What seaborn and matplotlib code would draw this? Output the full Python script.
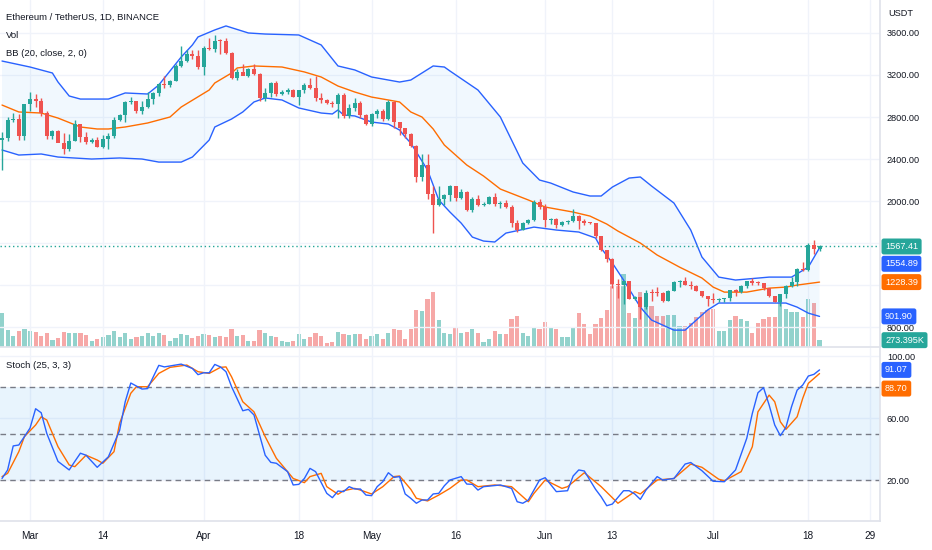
import numpy as np
import pandas as pd
import matplotlib
matplotlib.use("Agg")
import matplotlib.pyplot as plt
import seaborn as sns
from matplotlib import transforms

# ---------------- data ----------------
start_date = "2022-02-24"   # first candle (day 0)
opens = [2580, 2598, 2774, 2781, 2619,
         2920, 2972, 2950, 2835, 2620, 2665, 2555, 2495, 2576, 2730, 2607, 2560, 2577, 2515, 2590, 2620,
         2772, 2815, 2945, 2950, 2860, 2895, 2970, 3030, 3110, 3105, 3145, 3290, 3330, 3400, 3385,
         3280, 3455, 3445, 3522, 3520, 3410, 3170, 3232, 3190, 3260, 3210, 2980, 3030, 3120, 3020,
         3040, 3060, 2990, 3060, 3105, 3075, 2985, 2960, 2935, 2920, 3010, 2810, 2890, 2935, 2815,
         2730, 2825, 2855, 2780, 2940, 2750, 2695, 2635, 2520, 2230, 2340, 2070, 1960, 2015, 2060,
         2145, 2025, 2090, 1915, 2020, 1960, 1975, 2040, 1970, 1980, 1940, 1795, 1725, 1795, 1815, 1995,
         1940, 1820, 1832, 1775, 1805, 1806, 1860, 1812, 1793, 1790, 1665, 1530, 1450, 1210, 1205,
         1235, 1068, 1086, 995, 1127, 1125, 1123, 1050, 1145, 1225, 1243, 1200, 1190, 1140, 1095,
         1070, 1060, 1067, 1073, 1150, 1135, 1187, 1237, 1222, 1217, 1168, 1097, 1039, 1112, 1192,
         1233, 1355, 1340, 1582, 1542]
highs = [2660, 2800, 2840, 2830, 2922,
         3040, 3020, 2980, 2855, 2680, 2675, 2645, 2635, 2770, 2730, 2660, 2600, 2610, 2630, 2650, 2800,
         2830, 2950, 2990, 2955, 2950, 3040, 3040, 3120, 3190, 3150, 3300, 3480, 3440, 3440, 3440,
         3480, 3555, 3580, 3545, 3555, 3420, 3260, 3300, 3270, 3300, 3215, 3080, 3130, 3140, 3060,
         3080, 3070, 3060, 3120, 3170, 3190, 3030, 2970, 2950, 3030, 3030, 2925, 2980, 2955, 2830,
         2835, 2880, 2875, 2965, 2955, 2755, 2700, 2650, 2530, 2450, 2450, 2140, 2140, 2070, 2150,
         2145, 2110, 2100, 2040, 2060, 1995, 2050, 2080, 2000, 2010, 1960, 1815, 1800, 1830, 2010, 2020,
         1970, 1840, 1840, 1810, 1820, 1920, 1870, 1830, 1800, 1795, 1670, 1535, 1455, 1255, 1240,
         1240, 1100, 1090, 1150, 1160, 1180, 1135, 1150, 1235, 1250, 1280, 1235, 1200, 1145, 1100,
         1120, 1080, 1080, 1155, 1160, 1200, 1240, 1270, 1240, 1220, 1170, 1100, 1115, 1200, 1280,
         1360, 1415, 1600, 1625, 1585]
lows = [2300, 2570, 2750, 2580, 2580,
        2860, 2900, 2810, 2590, 2590, 2560, 2450, 2480, 2575, 2560, 2540, 2555, 2510, 2505, 2500, 2600,
        2765, 2750, 2920, 2840, 2830, 2890, 2920, 3000, 3080, 3090, 3140, 3280, 3320, 3350, 3260,
        3200, 3440, 3420, 3400, 3400, 3160, 3150, 3200, 3180, 3200, 2950, 2950, 2990, 3000, 3010,
        3020, 2990, 2910, 3030, 3070, 2950, 2930, 2925, 2900, 2790, 2790, 2790, 2860, 2790, 2720,
        2710, 2790, 2760, 2770, 2700, 2630, 2600, 2510, 2180, 2190, 2020, 1700, 1950, 1960, 2000,
        2000, 2020, 1905, 1900, 1950, 1950, 1970, 1950, 1930, 1930, 1750, 1710, 1720, 1785, 1810, 1920,
        1750, 1780, 1740, 1760, 1780, 1800, 1730, 1770, 1780, 1650, 1520, 1420, 1170, 1075, 1020,
        1066, 1060, 880, 970, 1050, 1100, 1040, 1045, 1140, 1180, 1200, 1160, 1140, 1085, 1000,
        1030, 1040, 1040, 1050, 1100, 1120, 1170, 1200, 1200, 1150, 1085, 1035, 1005, 1075, 1185,
        1190, 1336, 1335, 1500, 1525]
closes = [2598, 2774, 2781, 2619, 2920,
          2972, 2950, 2835, 2620, 2665, 2555, 2495, 2576, 2730, 2607, 2560, 2577, 2515, 2590, 2620, 2772,
          2815, 2945, 2950, 2860, 2895, 2970, 3030, 3110, 3105, 3145, 3290, 3330, 3400, 3385, 3280,
          3455, 3445, 3522, 3520, 3410, 3170, 3232, 3190, 3260, 3210, 2980, 3030, 3120, 3020, 3040,
          3060, 2990, 3060, 3105, 3075, 2985, 2960, 2935, 2920, 3010, 2810, 2890, 2935, 2815, 2730,
          2825, 2855, 2780, 2940, 2750, 2695, 2635, 2520, 2230, 2340, 2070, 1960, 2015, 2060, 2145,
          2025, 2090, 1915, 2020, 1960, 1975, 2040, 1970, 1980, 1940, 1795, 1725, 1795, 1815, 1995, 1940,
          1820, 1832, 1775, 1805, 1806, 1860, 1812, 1793, 1790, 1665, 1530, 1450, 1210, 1205, 1235,
          1068, 1086, 995, 1127, 1125, 1123, 1050, 1145, 1225, 1243, 1200, 1190, 1140, 1095, 1070,
          1060, 1067, 1073, 1150, 1135, 1187, 1237, 1222, 1217, 1168, 1097, 1039, 1112, 1192, 1233,
          1355, 1340, 1582, 1542, 1567.41]
volume_k = [1360, 680, 440, 640, 720,
            640, 600, 440, 560, 280, 360, 600, 560, 560, 560, 480, 240, 320, 400, 480, 640, 400, 560, 320,
            400, 440, 560, 440, 560, 480, 240, 360, 520, 480, 360, 440,
            520, 480, 400, 440, 400, 720, 440, 480, 240, 240, 680, 560, 440, 400, 240, 200, 240, 520, 320,
            400, 560, 440, 160, 200, 600, 520, 480, 520, 520, 320,
            440, 520, 320, 560, 720, 680, 320, 720, 1480, 1440, 1920, 2200, 1080, 560, 520, 800, 560, 600,
            720, 560, 200, 320, 640, 520, 520, 1120, 1240, 560, 440, 800, 720,
            1000, 760, 720, 400, 400, 760, 1360, 920, 520, 920, 1160, 1480, 2600, 2480, 2920, 1360, 1160,
            2200, 1840, 1640, 1240, 1240, 1280, 1280, 840, 840, 960, 1200, 1400, 1480,
            1520, 640, 640, 1080, 1240, 1120, 1040, 560, 960, 1120, 1200, 1200, 1840, 1520, 1400, 1400,
            1200, 1920, 1760, 273.395]

# Bollinger Bands (20, close, 2): day offset, value
bb_up_day = [0, 5, 9, 10, 12, 14, 19, 22, 26, 28, 32, 34, 35, 38, 40, 44, 47, 53, 57, 60,
             63, 66, 71, 73, 75, 77, 79, 80, 85, 89, 91, 93, 96, 98, 102, 105, 107, 109, 112, 114,
             116, 120, 123, 125, 128, 131, 137, 141, 144, 146]
bb_up = [3333, 3276, 3219, 3133, 3000, 2971, 2971, 3029, 3019, 3105, 3371, 3486, 3562, 3629, 3667,
         3600, 3590, 3581, 3486, 3286, 3248, 3181, 3133, 3152, 3219, 3286, 3276, 3238, 3057, 2800,
         2581, 2362, 2200, 2171, 2086, 2048, 2048, 2133, 2219, 2229, 2143, 1981, 1724, 1467, 1276,
         1248, 1276, 1276, 1371, 1554.89]
bb_mid_day = [0, 3, 7, 10, 14, 17, 19, 22, 26, 30, 32, 37, 38, 41, 42, 45, 50, 54, 57, 60,
              63, 66, 69, 71, 73, 75, 77, 79, 83, 86, 89, 94, 97, 102, 105, 108, 110, 114, 117, 121,
              125, 127, 129, 133, 137, 140, 142, 146]
bb_mid = [2914, 2848, 2838, 2790, 2705, 2686, 2686, 2705, 2743, 2800, 2895, 3057, 3124, 3219, 3267,
          3286, 3276, 3229, 3181, 3095, 3038, 2990, 2962, 2943, 2848, 2800, 2686, 2533, 2343, 2238,
          2114, 2010, 1943, 1895, 1857, 1781, 1714, 1600, 1486, 1371, 1267, 1181, 1133, 1133, 1171,
          1181, 1200, 1228.39]
bb_low_day = [0, 3, 7, 10, 16, 21, 25, 28, 32, 34, 37, 38, 41, 43, 45, 47, 50, 53, 57, 59,
              60, 61, 63, 66, 69, 71, 72, 73, 76, 78, 80, 82, 84, 86, 88, 90, 95, 99, 103, 106,
              107, 109, 111, 114, 116, 118, 120, 122, 124, 126, 128, 131, 136, 140, 142, 144, 146]
bb_low = [2486, 2438, 2448, 2419, 2400, 2410, 2400, 2371, 2371, 2419, 2581, 2705, 2781, 2848, 2943,
          2981, 2962, 2886, 2838, 2829, 2867, 2819, 2810, 2752, 2733, 2676, 2610, 2552, 2295, 2010,
          1895, 1790, 1657, 1619, 1610, 1695, 1752, 1724, 1705, 1648, 1552, 1410, 1248, 990, 867,
          819, 771, 771, 867, 962, 1029, 1029, 1029, 1029, 990, 933, 901.90]

# Stochastic (25, 3, 3)
stoch_k_day = [0, 1, 2, 3, 4, 5, 6, 7, 8, 10, 12, 13, 14, 15, 17, 19, 21, 22, 23, 25,
               26, 28, 29, 32, 34, 35, 36, 37, 38, 39, 40, 41, 43, 44, 45, 47, 48, 49, 51, 52,
               53, 54, 55, 56, 58, 59, 60, 61, 62, 63, 64, 65, 66, 67, 68, 69, 70, 71, 72, 73,
               74, 75, 76, 77, 78, 79, 80, 82, 83, 84, 85, 86, 89, 91, 92, 93, 94, 96, 97, 99,
               101, 102, 103, 104, 106, 107, 108, 109, 111, 112, 113, 114, 115, 117, 118, 120, 122, 123, 125, 127,
               129, 131, 133, 134, 135, 136, 137, 138, 139, 140, 141, 142, 143, 144, 145, 146]
stoch_k = [21, 26.5, 42, 42.6, 48, 53.5, 66, 63.4, 50, 32, 26.5, 32, 37.3, 36, 28.2, 35, 52, 70.5, 82.6, 78.7,
           79, 94, 93, 94.8, 92, 88, 89.2, 89.2, 94.6, 93, 89.9, 80.2, 64.7, 65.6, 62, 36, 31.4, 30.8, 25.4, 16.8,
           17.2, 21, 27.5, 25.4, 11.4, 8.6, 12.9, 12.5, 15.7, 14.2, 14.2, 10.3, 9.9, 15.7, 18.9, 24.7, 21.7, 22.2, 11, 8.2,
           5, 7.1, 7.1, 11, 11.4, 16.3, 20, 22.2, 17.4, 17.2, 13.5, 15.7, 16.8, 14.6, 6, 5, 7.1, 20, 21.5, 12.5,
           13.1, 22.6, 26.5, 25.8, 14, 9.2, 3.4, 4.5, 13.1, 13.1, 11, 7.5, 13.5, 22.2, 20, 21, 30.3, 31.3, 26, 19.2,
           18.9, 26.5, 46.9, 63, 76.3, 79.6, 68.4, 55.5, 48.6, 54, 67.3, 78, 81.3, 87.1, 88.2, 91.07]
stoch_d_day = [0, 1, 3, 4, 6, 7, 8, 10, 12, 13, 15, 17, 18, 20, 21, 23, 24, 26, 28, 30,
               33, 35, 37, 39, 40, 41, 43, 45, 47, 49, 50, 52, 54, 55, 57, 58, 60, 61, 63, 64,
               66, 68, 70, 71, 73, 74, 76, 78, 80, 82, 83, 85, 88, 91, 94, 95, 97, 100, 101, 104,
               107, 110, 113, 114, 117, 120, 123, 125, 128, 129, 132, 134, 135, 137, 138, 139, 140, 142, 143, 144,
               146]
stoch_d = [22.2, 24.3, 38.3, 48, 55.5, 60.8, 58.7, 41.5, 29.7, 28.6, 36, 32.9, 30.8, 38.3, 56.6, 76, 80.2, 80.2, 88.8, 92.7,
           94.2, 89.9, 88.8, 92.7, 93, 86.6, 70.5, 64, 48, 34, 29.7, 21, 18.3, 22.2, 24.3, 15.7, 10.8, 13.1, 14.6, 13.5,
           11, 15.7, 22.2, 22.6, 14, 8.2, 6.5, 10.3, 14.6, 20, 20, 15.7, 16.8, 15.7, 6, 11.4, 20, 14.6, 15.7, 24.7,
           15.7, 5, 12.5, 11, 20, 21, 30.3, 28.2, 20.5, 19.5, 25.4, 41.5, 64, 74.8, 70.5, 57.6, 52.7, 60.8, 72.7, 82.4,
           88.7]

tick_dates = ["2022-03-01", "2022-03-14", "2022-04-01", "2022-04-18", "2022-05-01", "2022-05-16",
              "2022-06-01", "2022-06-13", "2022-07-01", "2022-07-18", "2022-07-29"]
tick_labels = ["Mar", "14", "Apr", "18", "May", "16", "Jun", "13", "Jul", "18", "29"]
price_ticks = [800, 1200, 1600, 2000, 2400, 2800, 3200, 3600]
stoch_ticks = [20, 60, 100]
stoch_levels = [80, 50, 20]

title_lines = ["Ethereum / TetherUS, 1D, BINANCE", "Vol", "BB (20, close, 2, 0)"]
stoch_title = "Stoch (25, 3, 3)"

# ---------------- style ----------------
sns.set_theme(style="white")
plt.rcParams['font.family'] = ['Liberation Sans', 'DejaVu Sans']

UP, DOWN = "#26a69a", "#ef5350"
BLUE, ORANGE = "#2962ff", "#ff6d00"
GRID = "#f0f3fa"
TXT = "#131722"
LINE = "#e0e3eb"
NUM_FS = 6.6

W, H = 932, 550
fig = plt.figure(figsize=(W / 100, H / 100), dpi=100)
fig.patch.set_facecolor("white")


def rect(x0, y0, x1, y1):
    return [x0 / W, 1 - y1 / H, (x1 - x0) / W, (y1 - y0) / H]


ax = fig.add_axes(rect(0, 0, 880, 347))
axs = fig.add_axes(rect(0, 348, 880, 521), sharex=ax)
axv = ax.twinx()
axv.set_zorder(0)
ax.set_zorder(1)
ax.patch.set_visible(False)
axv.patch.set_facecolor("white")

o = np.array(opens, float)
h = np.array(highs, float)
l = np.array(lows, float)
c = np.array(closes, float)
v = np.array(volume_k, float)
n = np.arange(len(c))
up = c >= o
col = np.where(up, UP, DOWN)

start = pd.Timestamp(start_date)
tick_pos = [(pd.Timestamp(d) - start).days for d in tick_dates]

# volume
axv.bar(n, v, width=0.75, color=np.where(up, UP, DOWN), alpha=0.5, linewidth=0)
axv.set_ylim(0, 13880)
axv.yaxis.set_visible(False)
for s in axv.spines.values():
    s.set_visible(False)

# grid
for t in tick_pos:
    ax.axvline(t, color=GRID, lw=1, zorder=0)
    axs.axvline(t, color=GRID, lw=1, zorder=0)
for p in price_ticks:
    ax.axhline(p, color=GRID, lw=1, zorder=0)
for p in stoch_ticks:
    axs.axhline(p, color=GRID, lw=1, zorder=0)

# Bollinger fill + lines
ax.fill(np.r_[bb_up_day, bb_low_day[::-1]], np.r_[bb_up, bb_low[::-1]],
        color="#2196f3", alpha=0.06, lw=0, zorder=1)
sns.lineplot(x=bb_up_day, y=bb_up, ax=ax, color=BLUE, lw=1, legend=False, zorder=2)
sns.lineplot(x=bb_low_day, y=bb_low, ax=ax, color=BLUE, lw=1, legend=False, zorder=2)
sns.lineplot(x=bb_mid_day, y=bb_mid, ax=ax, color=ORANGE, lw=1, legend=False, zorder=2)

# candles
ax.vlines(n, l, h, colors=col, lw=1, zorder=3)
body = np.maximum(np.abs(c - o), 9)
ax.bar(n, body, bottom=np.minimum(o, c), width=0.72, color=col, linewidth=0, zorder=4)

# last price line
ax.axhline(c[-1], color=UP, lw=1, ls=(0, (1, 2)), zorder=2)

# tag values on the price scale (labels hidden underneath them, as on the chart)
main_tags = [closes[-1], bb_up[-1], bb_mid[-1], bb_low[-1]]

ax.set_xlim(-0.36, 156.8)
ax.set_ylim(610.5, 3914)
ax.yaxis.tick_right()
ax.set_yticks(price_ticks)
ax.set_yticklabels(["" if min(abs(p - t) for t in main_tags) < 50 else f"{p:.2f}"
                    for p in price_ticks])
ax.tick_params(axis="y", length=0, pad=5, labelsize=NUM_FS, labelcolor=TXT)
ax.tick_params(axis="x", length=0, labelbottom=False)
ax.set_xlabel("")
ax.set_ylabel("")
for name, s in ax.spines.items():
    s.set_visible(name in ("right", "bottom"))
    s.set_color(LINE)

# stoch
axs.axhspan(stoch_levels[-1], stoch_levels[0], color="#2196f3", alpha=0.1, lw=0, zorder=0)
for lv in stoch_levels:
    axs.axhline(lv, color="#787b86", lw=1, ls=(0, (4, 3)), zorder=1)
sns.lineplot(x=stoch_k_day, y=stoch_k, ax=axs, color=BLUE, lw=1, legend=False, zorder=3)
sns.lineplot(x=stoch_d_day, y=stoch_d, ax=axs, color=ORANGE, lw=1, legend=False, zorder=2)
axs.set_ylim(-6.45, 105.2)
axs.yaxis.tick_right()
axs.set_yticks(stoch_ticks)
axs.set_yticklabels([f"{p:.2f}" for p in stoch_ticks])
axs.tick_params(axis="y", length=0, pad=5, labelsize=NUM_FS, labelcolor=TXT)
axs.set_xticks(tick_pos)
axs.set_xticklabels(tick_labels)
axs.tick_params(axis="x", length=0, pad=7, labelsize=7.2, labelcolor=TXT)
axs.set_xlabel("")
axs.set_ylabel("")
for name, s in axs.spines.items():
    s.set_visible(name in ("right", "bottom"))
    s.set_color(LINE)


# value tags on the right scale
def tag(axis, value, text, color, dy_px=0):
    tr = transforms.blended_transform_factory(axis.transAxes, axis.transData)
    tr = tr + transforms.ScaledTranslation(0, -dy_px / 100, fig.dpi_scale_trans)
    axis.text(1.0 + 5 / 880, value, text, transform=tr, ha="left", va="center",
              color="white", fontsize=NUM_FS, clip_on=False, zorder=20,
              bbox=dict(boxstyle="round,pad=0.38,rounding_size=0.25", fc=color, ec="none"))


tag(ax, closes[-1], f"{closes[-1]:.2f}", UP)
tag(ax, bb_up[-1], f"{bb_up[-1]:.2f}", BLUE, dy_px=16)
tag(ax, bb_mid[-1], f"{bb_mid[-1]:.2f}", ORANGE)
tag(ax, bb_low[-1], f"{bb_low[-1]:.2f}", BLUE)
tag(axv, volume_k[-1], f"{volume_k[-1]:.3f}K", UP)
tag(axs, stoch_k[-1], f"{stoch_k[-1]:.2f}", BLUE)
tag(axs, stoch_d[-1], f"{stoch_d[-1]:.2f}", ORANGE, dy_px=15)

# texts
for i, t in enumerate(title_lines):
    fig.text(6 / W, 1 - (17 + i * 18) / H, t, ha="left", va="center", fontsize=6.8, color=TXT)
fig.text(6 / W, 1 - 365 / H, stoch_title, ha="left", va="center", fontsize=6.8, color=TXT)
fig.text(888 / W, 1 - 14 / H, "USDT", ha="left", va="center", fontsize=6.6, color=TXT)

fig.savefig("out.png", dpi=100, facecolor="white")
